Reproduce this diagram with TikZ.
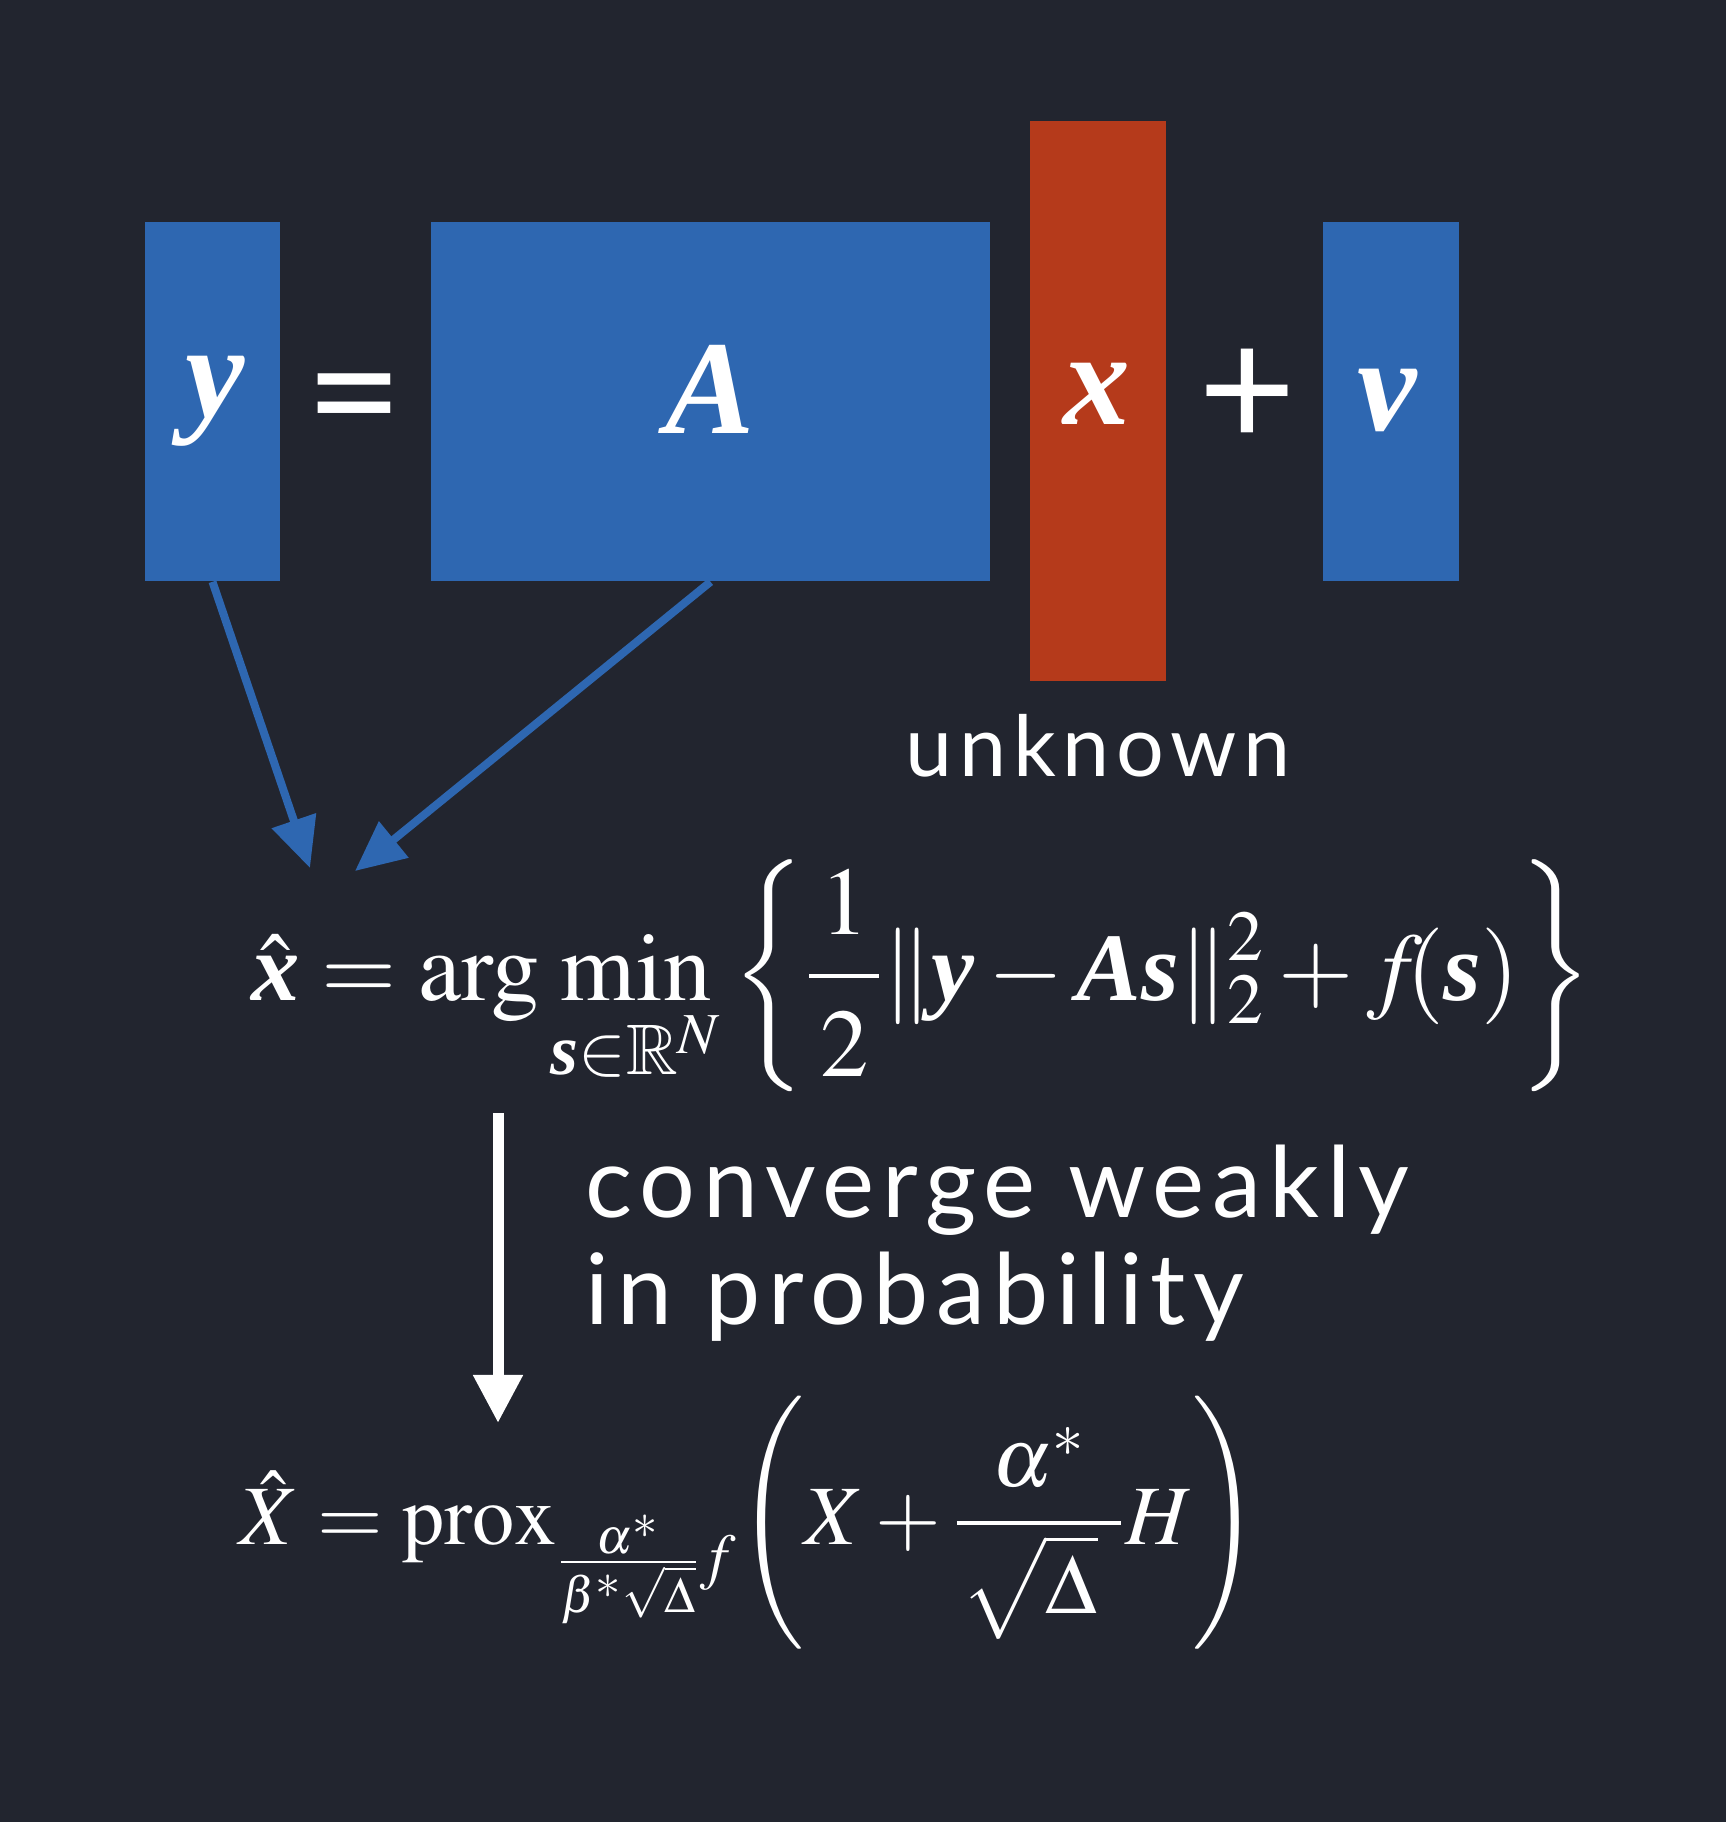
\documentclass[tikz,border=0pt]{standalone}
\usepackage{amsmath,amssymb}
\usepackage{mathptmx}
\usepackage{fontspec}
\setmainfont{Liberation Serif}
\newfontfamily\notefont[LetterSpace=8]{Lato}
\usetikzlibrary{arrows.meta}

\definecolor{slidebg}{HTML}{22252F}
\definecolor{boxblue}{HTML}{2E67B1}
\definecolor{boxred}{HTML}{B53A1B}

\newcommand{\bv}[1]{\textbf{\textit{#1}}}

\begin{document}
\begin{tikzpicture}[x=0.01cm,y=-0.01cm,
  block/.style={fill=boxblue, draw=none, inner sep=0pt},
  letter/.style={text=white, anchor=base, inner sep=0pt, font=\fontsize{38}{44}\selectfont},
  sign/.style={text=white, anchor=base, inner sep=0pt, font=\notefont\fontsize{48}{54}\selectfont},
  note/.style={text=white, anchor=base west, inner sep=0pt, align=left, font=\notefont\fontsize{24}{29}\selectfont},
  formula/.style={text=white, anchor=base west, inner sep=0pt, font=\fontsize{27.5}{33}\selectfont},
  bluearrow/.style={draw=boxblue, line width=0.08cm, -{Triangle[length=0.5cm,width=0.45cm]}},
  whitearrow/.style={draw=white, line width=0.11cm, -{Triangle[length=0.48cm,width=0.47cm]}}]

  % background
  \fill[slidebg] (0,0) rectangle (1726,1822);

  % y = A x + v
  \node[block, minimum width=1.35cm, minimum height=3.59cm] (ybox) at (212.5,401.5) {};
  \node[block, minimum width=5.59cm, minimum height=3.59cm] (Abox) at (710.5,401.5) {};
  \node[block, fill=boxred, minimum width=1.36cm, minimum height=5.60cm] (xbox) at (1098,401) {};
  \node[block, minimum width=1.36cm, minimum height=3.59cm] (vbox) at (1391,401.5) {};

  \node[letter] (ylet) at (215,418) {\bv{y}};
  \node[sign] (eq) at (354,451) {=};
  \node[letter] (Alet) at (710,434) {\bv{A}};
  \node[letter] (xlet) at (1097,425) {\bv{x}};
  \node[sign] (plus) at (1247,448) {+};
  \node[letter] (vlet) at (1388,431) {\bv{v}};

  \node[note, anchor=base] (unknown) at (1098,776) {unknown};

  % estimator
  \coordinate (yin) at (310,868);
  \coordinate (Ain) at (355,871);
  \draw[bluearrow] (ybox.south) -- (yin);
  \draw[bluearrow] (Abox.south) -- (Ain);

  \node[formula] (argmin) at (251,1000) {$\displaystyle \hat{\bv{x}} = \mathrm{arg}\min_{\bv{s}\in\mathbb{R}^N} \left\{ \frac{\mkern2mu 1\mkern2mu}{\mkern2mu\raisebox{-0.1em}{$2$}\mkern2mu} \|\bv{y}-\bv{A}\bv{s}\|_2^2 + f\mkern-3mu(\bv{s}) \right\}$};

  % limit
  \coordinate (convtop) at (498,1113);
  \coordinate (convtip) at (498,1423);
  \draw[whitearrow] (convtop) -- (convtip);

  \node[note, font=\notefont\fontsize{28}{30.4}\selectfont] (conv) at (585,1324) {converge weakly\\in probability};

  \node[formula, font=\fontsize{24}{29}\selectfont] (prox) at (239,1544) {$\displaystyle \hat{X} = \mathrm{prox}_{\frac{\alpha^*}{\beta^*\sqrt{\Delta}}f}\!\left( X + \frac{\alpha^*}{\mkern1mu\sqrt{\Delta\rule[-0.25em]{0pt}{1em}}\mkern5mu} H \right)$};
\end{tikzpicture}
\end{document}
